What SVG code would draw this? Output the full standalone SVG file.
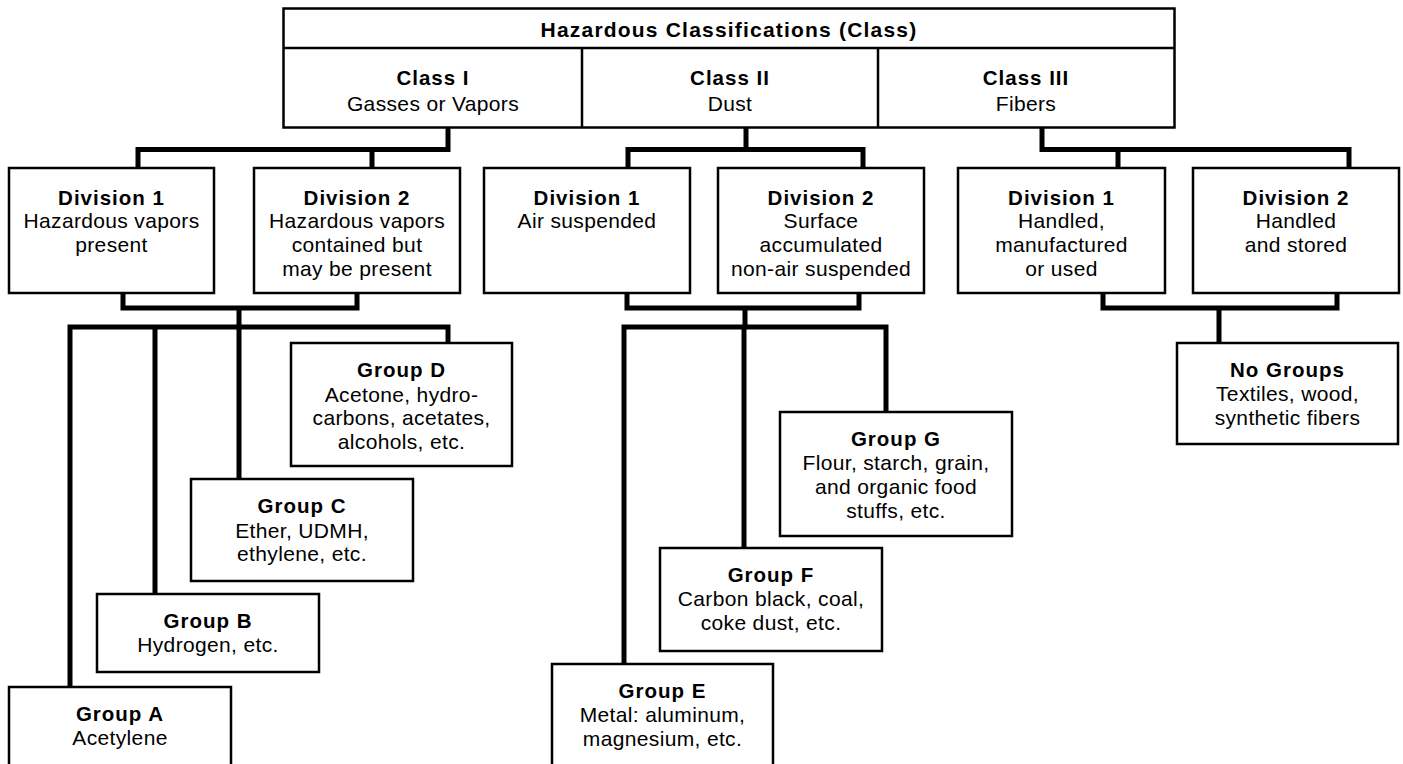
<svg xmlns="http://www.w3.org/2000/svg" width="1403" height="764" viewBox="0 0 1403 764">
<style>
.box{fill:#fff;stroke:#000;stroke-width:2.5}
.ln{fill:none;stroke:#000;stroke-width:2.5}
.con{fill:none;stroke:#000;stroke-width:5;stroke-linejoin:miter;stroke-linecap:butt}
.h{font-family:"Liberation Sans",Arial,sans-serif;font-weight:bold;font-size:20.5px;letter-spacing:1px;text-anchor:middle;fill:#000}
.ti{font-size:21px;letter-spacing:1.2px}
.t{font-family:"Liberation Sans",Arial,sans-serif;font-size:21px;letter-spacing:0.35px;text-anchor:middle;fill:#000}
</style>
<rect width="1403" height="764" fill="#fff"/>
<g id="connectors">
<path class="con" d="M138 168V149.5H448V127M372 149.5V168"/>
<path class="con" d="M746 127V149.5M628 168V149.5H863V168"/>
<path class="con" d="M1042 127V149.5H1349V168M1118 149.5V168"/>
<path class="con" d="M123 293V308H357V293M239 308V327"/>
<path class="con" d="M70 687V327H448V343M155 327V594M239 327V479"/>
<path class="con" d="M627 293V308H859V293M745 308V327"/>
<path class="con" d="M624 664V327H886V412M744 327V548"/>
<path class="con" d="M1103 293V308H1337V293M1219 308V343"/>
</g>
<g id="classes">
<rect class="box" x="283.5" y="8.5" width="891" height="119"/>
<line class="ln" x1="283.5" y1="48" x2="1174.5" y2="48"/>
<line class="ln" x1="582" y1="48" x2="582" y2="127.5"/>
<line class="ln" x1="878" y1="48" x2="878" y2="127.5"/>
<text class="h ti" x="729" y="37">Hazardous Classifications (Class)</text>
</g>
<g id="class1"><text class="h" x="433" y="85">Class I</text><text class="t" x="433" y="111">Gasses or Vapors</text></g>
<g id="class2"><text class="h" x="730" y="85">Class II</text><text class="t" x="730" y="111">Dust</text></g>
<g id="class3"><text class="h" x="1026" y="85">Class III</text><text class="t" x="1026" y="111">Fibers</text></g>

<g id="c1d1"><rect class="box" x="9" y="168" width="205" height="125"/><text class="h" x="111.5" y="205">Division 1</text><text class="t" x="111.5" y="228">Hazardous vapors</text><text class="t" x="111.5" y="252">present</text></g>
<g id="c1d2"><rect class="box" x="254" y="168" width="206" height="125"/><text class="h" x="357" y="205">Division 2</text><text class="t" x="357" y="228">Hazardous vapors</text><text class="t" x="357" y="252">contained but</text><text class="t" x="357" y="276">may be present</text></g>
<g id="c2d1"><rect class="box" x="484" y="168" width="206" height="125"/><text class="h" x="587" y="205">Division 1</text><text class="t" x="587" y="228">Air suspended</text></g>
<g id="c2d2"><rect class="box" x="718" y="168" width="206" height="125"/><text class="h" x="821" y="205">Division 2</text><text class="t" x="821" y="228">Surface</text><text class="t" x="821" y="252">accumulated</text><text class="t" x="821" y="276">non-air suspended</text></g>
<g id="c3d1"><rect class="box" x="958" y="168" width="207" height="125"/><text class="h" x="1061.5" y="205">Division 1</text><text class="t" x="1061.5" y="228">Handled,</text><text class="t" x="1061.5" y="252">manufactured</text><text class="t" x="1061.5" y="276">or used</text></g>
<g id="c3d2"><rect class="box" x="1193" y="168" width="206" height="125"/><text class="h" x="1296" y="205">Division 2</text><text class="t" x="1296" y="228">Handled</text><text class="t" x="1296" y="252">and stored</text></g>

<g id="groupD"><rect class="box" x="291" y="343" width="221" height="123"/><text class="h" x="401.5" y="377">Group D</text><text class="t" x="401.5" y="402">Acetone, hydro-</text><text class="t" x="401.5" y="425">carbons, acetates,</text><text class="t" x="401.5" y="449">alcohols, etc.</text></g>
<g id="groupC"><rect class="box" x="191" y="479" width="222" height="102"/><text class="h" x="302" y="513">Group C</text><text class="t" x="302" y="538">Ether, UDMH,</text><text class="t" x="302" y="561">ethylene, etc.</text></g>
<g id="groupB"><rect class="box" x="97" y="594" width="222" height="78"/><text class="h" x="208" y="628">Group B</text><text class="t" x="208" y="652">Hydrogen, etc.</text></g>
<g id="groupA"><rect class="box" x="9" y="687" width="222" height="90"/><text class="h" x="120" y="721">Group A</text><text class="t" x="120" y="745">Acetylene</text></g>
<g id="groupG"><rect class="box" x="780" y="412" width="232" height="124"/><text class="h" x="896" y="446">Group G</text><text class="t" x="896" y="470">Flour, starch, grain,</text><text class="t" x="896" y="494">and organic food</text><text class="t" x="896" y="518">stuffs, etc.</text></g>
<g id="groupF"><rect class="box" x="660" y="548" width="222" height="103"/><text class="h" x="771" y="582">Group F</text><text class="t" x="771" y="606">Carbon black, coal,</text><text class="t" x="771" y="630">coke dust, etc.</text></g>
<g id="groupE"><rect class="box" x="552" y="664" width="221" height="110"/><text class="h" x="662.5" y="698">Group E</text><text class="t" x="662.5" y="722">Metal: aluminum,</text><text class="t" x="662.5" y="746">magnesium, etc.</text></g>
<g id="noGroups"><rect class="box" x="1177" y="343" width="221" height="101"/><text class="h" x="1287.5" y="377">No Groups</text><text class="t" x="1287.5" y="401">Textiles, wood,</text><text class="t" x="1287.5" y="425">synthetic fibers</text></g>
</svg>
